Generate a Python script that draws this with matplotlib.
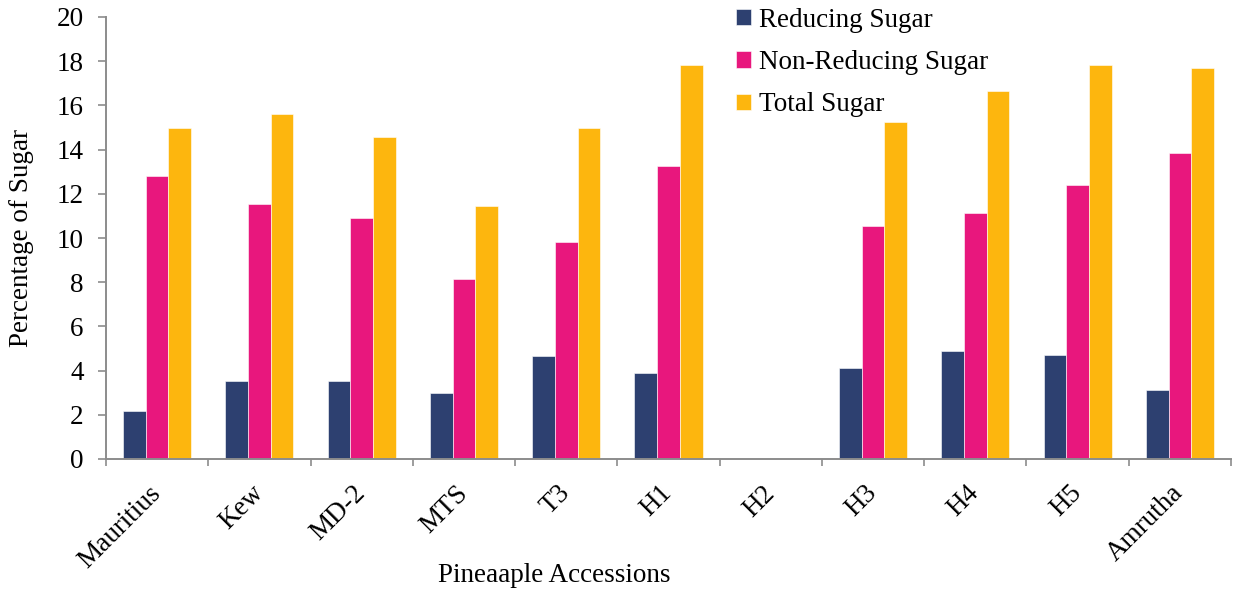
import numpy as np
import matplotlib
matplotlib.use("Agg")
import matplotlib.pyplot as plt

plt.rcParams['font.family'] = ['Liberation Serif', 'DejaVu Serif']

accessions = ["Mauritius", "Kew", "MD-2", "MTS", "T3", "H1", "H2", "H3", "H4", "H5", "Amrutha"]
reducing = [2.16, 3.53, 3.55, 3.00, 4.65, 3.89, 0, 4.10, 4.89, 4.72, 3.12]
non_reducing = [12.79, 11.55, 10.90, 8.15, 9.83, 13.24, 0, 10.55, 11.14, 12.42, 13.83]
total = [14.97, 15.59, 14.57, 11.47, 15.00, 17.84, 0, 15.23, 16.64, 17.81, 17.69]

series = [("Reducing Sugar", reducing, "#2d4070"),
          ("Non-Reducing Sugar", non_reducing, "#e8177d"),
          ("Total Sugar", total, "#fdb60e")]

fs = 19.5
grey = "#8c8c8c"

fig = plt.figure(figsize=(12.35, 5.93), dpi=100)
ax = fig.add_axes([106/1235, 1 - 459/593, 1125/1235, 442/593])

x = np.arange(len(accessions))
w = 0.222
for i, (name, vals, col) in enumerate(series):
    ax.bar(x + (i - 1) * w, vals, w, color=col, label=name,
           edgecolor="white", linewidth=0.4)

ax.set_xlim(-0.5, len(accessions) - 0.5)
ax.set_ylim(0, 20)
ax.set_yticks(np.arange(0, 21, 2))

# category boundary ticks, labels in the middle
ax.set_xticks(np.arange(-0.5, len(accessions), 1))
ax.set_xticklabels([])
ax.set_xticks(x, minor=True)
ax.set_xticklabels(accessions, minor=True, rotation=45, ha="right",
                   rotation_mode="anchor", va="center", fontsize=fs)
ax.tick_params(axis="x", which="minor", length=0, pad=22)
ax.tick_params(axis="x", which="major", length=5, width=1.2, color=grey)
ax.tick_params(axis="y", length=6, width=1.2, color=grey, pad=10, labelsize=fs)

for s in ["top", "right"]:
    ax.spines[s].set_visible(False)
for s in ["left", "bottom"]:
    ax.spines[s].set_color(grey)
    ax.spines[s].set_linewidth(1.4)

ax.set_ylabel("Percentage of Sugar", fontsize=fs)
ax.yaxis.set_label_coords(-0.064, 0.5)
fig.text(554/1235, 1 - 575/593, "Pineaaple Accessions", fontsize=fs,
         ha="center", va="center")

ax.legend(loc="upper left", bbox_to_anchor=(733/1235, 1 - 5/593),
          bbox_transform=fig.transFigure, frameon=False, fontsize=fs,
          handlelength=0.55, handleheight=0.55, handletextpad=0.3,
          labelspacing=0.64, borderaxespad=0, borderpad=0.1)

fig.savefig("out.png", dpi=100)
